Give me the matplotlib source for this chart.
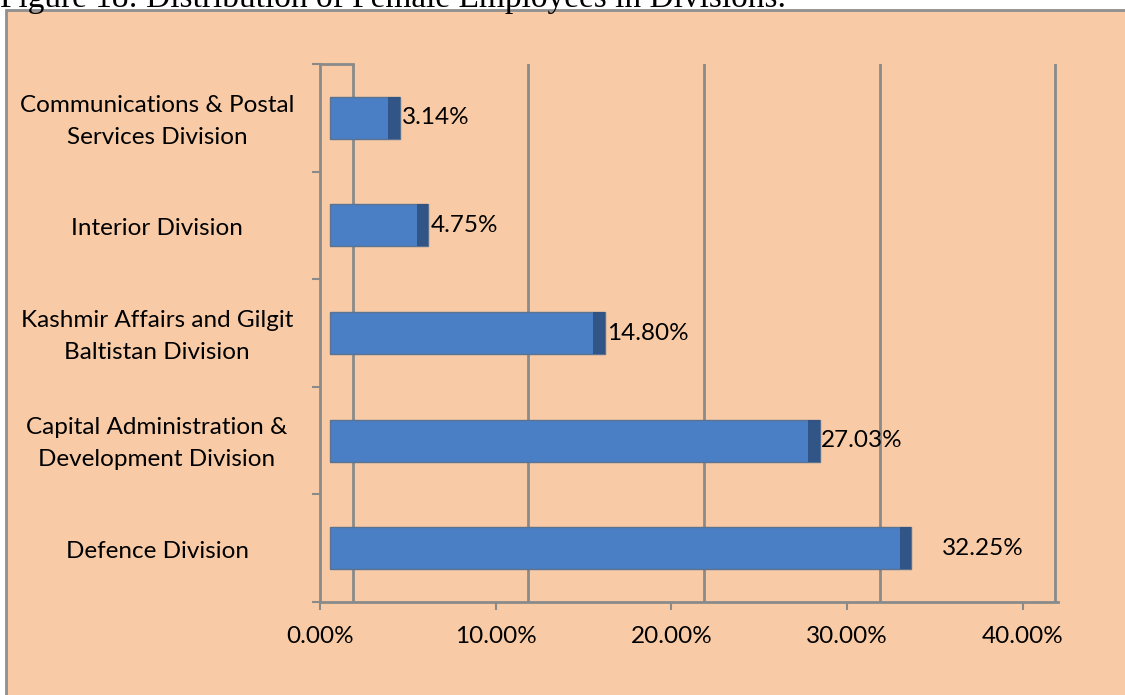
import matplotlib.pyplot as plt
import matplotlib.transforms as mtransforms
from matplotlib.patches import Rectangle
import numpy as np

# === Data ===
divisions = [
    "Communications & Postal\nServices Division",
    "Interior Division",
    "Kashmir Affairs and Gilgit\nBaltistan Division",
    "Capital Administration &\nDevelopment Division",
    "Defence Division",
]
shares = [3.14, 4.75, 14.80, 27.03, 32.25]
tick_values = [0, 10, 20, 30, 40]
title = "Figure 18: Distribution of Female Employees in Divisions."

# === Style ===
bg_orange = "#F8CBA6"
grid_gray = "#8A8A8A"
bar_blue = "#4A7FC6"
cap_blue = "#2E4E7C"
depth = 1.4          # pseudo-3D depth offset (in % units)
bar_start = 0.55
label_pad = [0.15, 0.15, 0.15, 0.05, 1.75]
font = ["Lato", "DejaVu Sans"]

fig = plt.figure(figsize=(11.25, 6.95), dpi=100)
fig.patch.set_facecolor("white")

# orange chart area with grey border
fig.patches.append(Rectangle((6 / 1125, -0.05), 1.2, 1 - 10 / 695 + 0.05,
                             transform=fig.transFigure, facecolor=bg_orange,
                             edgecolor="#8F8F8F", linewidth=2, zorder=-5))

fig.text(0.0, 1 - 7 / 695, title, family="Liberation Serif", fontsize=24,
         ha="left", va="baseline")

ax = fig.add_axes([320 / 1125, 93 / 695, 738 / 1125, 538 / 695])
ax.set_facecolor("none")

n = len(divisions)
y = np.arange(n)
ax.set_ylim(n - 0.5, -0.5)
ax.set_xlim(0, 42.0)

# gridlines shifted by the 3D depth of the floor
for gx in np.arange(1.85, 42.5, 10):
    ax.axvline(gx, color=grid_gray, linewidth=2, zorder=1)
ax.plot([0, 1.85], [-0.5, -0.5], color=grid_gray, linewidth=2, zorder=1,
        clip_on=False)

# bars
for i, v in enumerate(shares):
    end = v + depth
    ax.barh(i, end - bar_start, left=bar_start, height=0.39, color=bar_blue,
            edgecolor="#5B7290", linewidth=1, zorder=3)
    ax.barh(i, 0.65, left=end - 0.65, height=0.39, color=cap_blue,
            edgecolor="none", alpha=0.85, zorder=4)
    ax.text(end + label_pad[i], i, f"{v:.2f}%", va="center", ha="left",
            fontsize=17.5, family=font, zorder=5)

# axes formatting
ax.set_xticks(tick_values)
ax.set_xticklabels([f"{t:.2f}%" for t in tick_values], fontsize=17.5, family=font)
ax.set_yticks(np.arange(-0.5, n, 1))
ax.set_yticklabels([])
ax.tick_params(axis="both", direction="out", length=6, width=1.5,
               color=grid_gray, pad=11)
for side in ["top", "right"]:
    ax.spines[side].set_visible(False)
for side in ["left", "bottom"]:
    ax.spines[side].set_color(grid_gray)
    ax.spines[side].set_linewidth(2)

# category labels, centred in the left margin
trans = mtransforms.blended_transform_factory(fig.transFigure, ax.transData)
for i, name in enumerate(divisions):
    ax.text(157 / 1125, i + 0.03, name, transform=trans, ha="center", va="center",
            multialignment="center", fontsize=17.5, family=font,
            linespacing=1.65)

fig.savefig("out.png", dpi=100)
